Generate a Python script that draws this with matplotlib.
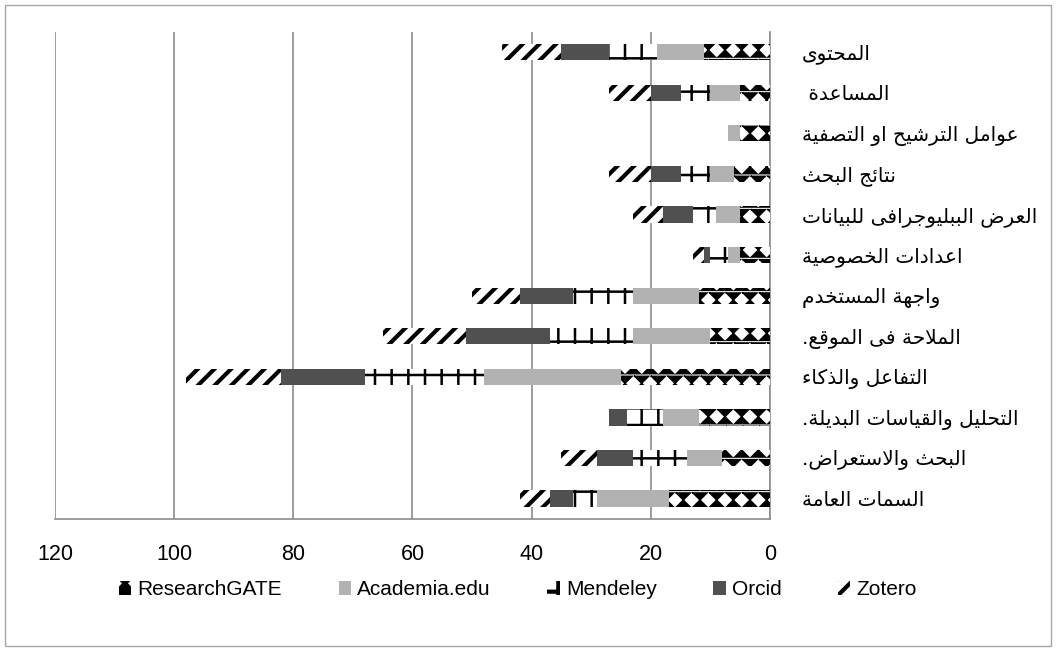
import numpy as np
import matplotlib
matplotlib.use('Agg')
import matplotlib.pyplot as plt
import matplotlib.hatch as mhatch
from matplotlib.patches import Rectangle

# categories top -> bottom
categories = ['المحتوى', 'المساعدة ', 'عوامل الترشيح او التصفية', 'نتائج البحث',
              'العرض الببليوجرافى للبيانات', 'اعدادات الخصوصية', 'واجهة المستخدم',
              'الملاحة فى الموقع.', 'التفاعل والذكاء', 'التحليل والقياسات البديلة.',
              'البحث والاستعراض.', 'السمات العامة']
researchgate = [11, 5, 5, 6, 5, 5, 12, 10, 25, 12, 8, 17]
academia = [8, 5, 2, 4, 4, 2, 11, 13, 23, 6, 6, 12]
mendeley = [8, 5, 0, 5, 4, 3, 10, 14, 20, 6, 9, 4]
orcid = [8, 5, 0, 5, 5, 1, 9, 14, 14, 3, 6, 4]
zotero = [10, 7, 0, 7, 5, 2, 8, 14, 16, 0, 6, 5]
series_names = ['ResearchGATE', 'Academia.edu', 'Mendeley', 'Orcid', 'Zotero']
x_ticks = [0, 20, 40, 60, 80, 100, 120]

# --- simple arabic shaping (matplotlib has no complex text layout) ---
FORMS = {'ء': (0xFE80, 1), 'آ': (0xFE81, 2), 'أ': (0xFE83, 2), 'ؤ': (0xFE85, 2),
         'إ': (0xFE87, 2), 'ئ': (0xFE89, 4), 'ا': (0xFE8D, 2), 'ب': (0xFE8F, 4),
         'ة': (0xFE93, 2), 'ت': (0xFE95, 4), 'ث': (0xFE99, 4), 'ج': (0xFE9D, 4),
         'ح': (0xFEA1, 4), 'خ': (0xFEA5, 4), 'د': (0xFEA9, 2), 'ذ': (0xFEAB, 2),
         'ر': (0xFEAD, 2), 'ز': (0xFEAF, 2), 'س': (0xFEB1, 4), 'ش': (0xFEB5, 4),
         'ص': (0xFEB9, 4), 'ض': (0xFEBD, 4), 'ط': (0xFEC1, 4), 'ظ': (0xFEC5, 4),
         'ع': (0xFEC9, 4), 'غ': (0xFECD, 4), 'ف': (0xFED1, 4), 'ق': (0xFED5, 4),
         'ك': (0xFED9, 4), 'ل': (0xFEDD, 4), 'م': (0xFEE1, 4), 'ن': (0xFEE5, 4),
         'ه': (0xFEE9, 4), 'و': (0xFEED, 2), 'ى': (0xFEEF, 2), 'ي': (0xFEF1, 4)}
LAM_ALEF = {'آ': 0xFEF5, 'أ': 0xFEF7, 'إ': 0xFEF9, 'ا': 0xFEFB}


def shape_ar(text):
    chars = []
    i = 0
    while i < len(text):
        c = text[i]
        if c == 'ل' and i + 1 < len(text) and text[i + 1] in LAM_ALEF:
            chars.append(('LA', text[i + 1]))
            i += 2
        else:
            chars.append(c)
            i += 1

    def joins_next(item):
        return not isinstance(item, tuple) and item in FORMS and FORMS[item][1] == 4

    def joinable(item):
        return isinstance(item, tuple) or (item in FORMS and FORMS[item][1] >= 2)

    out = []
    for k, item in enumerate(chars):
        prev = chars[k - 1] if k > 0 else None
        nxt = chars[k + 1] if k + 1 < len(chars) else None
        p = prev is not None and joins_next(prev) and joinable(item)
        if isinstance(item, tuple):
            out.append(chr(LAM_ALEF[item[1]] + (1 if p else 0)))
            continue
        if item not in FORMS:
            out.append(item)
            continue
        base, n = FORMS[item]
        nx = n == 4 and nxt is not None and joinable(nxt)
        form = 3 if (p and nx) else 1 if p else 2 if nx else 0
        out.append(chr(base + form))
    return ''.join(out)[::-1]


# hourglass pattern in place of the star hatch (excel-like pattern fill)
class HourglassHatch(mhatch.Shapes):
    size = 0.85
    filled = True

    def __init__(self, hatch, density):
        self.num_rows = hatch.count('*') * density
        self.shape_vertices = np.array([[-0.5, 0.5], [0.5, 0.5], [-0.5, -0.5],
                                        [0.5, -0.5], [-0.5, 0.5]])
        self.shape_codes = np.full(5, mhatch.Path.LINETO, dtype=mhatch.Path.code_type)
        self.shape_codes[0] = mhatch.Path.MOVETO
        super().__init__(hatch, density)


try:
    mhatch._hatch_types[mhatch._hatch_types.index(mhatch.Stars)] = HourglassHatch
except Exception:
    pass

fig = plt.figure(figsize=(10.57, 6.51), dpi=100)
ax = fig.add_axes([0.052, 0.203, 0.6765, 0.748])

y = np.arange(len(categories))
values = [researchgate, academia, mendeley, orcid, zotero]
styles = [
    dict(color='white', edgecolor='black', hatch='*', hlw=1.0),
    dict(color='#b2b2b2', edgecolor='#b2b2b2', hatch=None, hlw=1.0),
    dict(color='white', edgecolor='black', hatch='+', hlw=1.8),
    dict(color='#505050', edgecolor='#505050', hatch=None, hlw=1.0),
    dict(color='white', edgecolor='black', hatch='//', hlw=3.0),
]
left = np.zeros(len(categories))
for name, vals, st in zip(series_names, values, styles):
    plt.rcParams['hatch.linewidth'] = st['hlw']
    bars = ax.barh(y, vals, left=left, height=0.4, color=st['color'],
                   edgecolor=st['edgecolor'], hatch=st['hatch'], linewidth=0,
                   label=name, zorder=3)
    for b in bars:
        try:
            b.set_hatch_linewidth(st['hlw'])
        except AttributeError:
            pass
    left += np.array(vals)

ax.set_xlim(120, 0)
ax.set_ylim(len(categories) - 0.5, -0.5)
ax.set_xticks(x_ticks)
ax.xaxis.grid(True, color='#8c8c8c', linewidth=1.2, zorder=0)
ax.set_axisbelow(True)
ax.yaxis.tick_right()
ax.set_yticks(y)
ax.set_yticklabels([shape_ar(c) for c in categories], fontfamily='DejaVu Sans',
                   fontsize=14.5)
ax.tick_params(axis='y', length=0, pad=23)
ax.tick_params(axis='x', length=0, pad=18, labelsize=15.5)
for lab in ax.get_xticklabels():
    lab.set_fontfamily('Liberation Sans')
for s in ['top', 'left']:
    ax.spines[s].set_visible(False)
for s in ['bottom', 'right']:
    ax.spines[s].set_color('#8c8c8c')
    ax.spines[s].set_linewidth(1.2)

leg = fig.legend(loc='center', bbox_to_anchor=(0.49, 0.094), ncol=5, frameon=False,
                 handlelength=0.6, handleheight=0.6, handletextpad=0.3,
                 columnspacing=2.7,
                 prop={'family': 'Liberation Sans', 'size': 15})

fig.patches.append(Rectangle((0.005, 0.008), 0.989, 0.984, transform=fig.transFigure,
                             fill=False, edgecolor='#a6a6a6', linewidth=1))

fig.savefig('out.png', dpi=100)
